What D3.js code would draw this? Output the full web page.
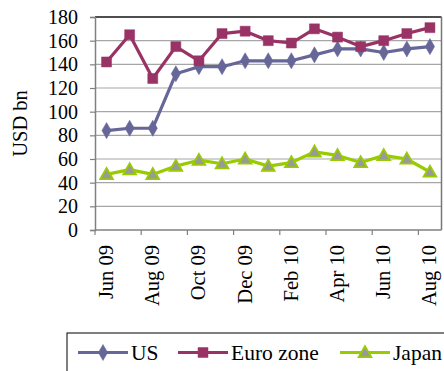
<!DOCTYPE html>
<html>
<head>
<meta charset="utf-8">
<script src="https://cdn.jsdelivr.net/npm/d3@7/dist/d3.min.js"></script>
<style>
  html, body { margin: 0; padding: 0; background: #fff; }
  svg text { font-family: "Liberation Serif", "Times New Roman", serif !important; }
</style>
</head>
<body>
<svg id="chart" width="444" height="371"></svg>
<script>
// Monthly values, USD bn
const months = ["Jun 09","Jul 09","Aug 09","Sep 09","Oct 09","Nov 09","Dec 09",
                "Jan 10","Feb 10","Mar 10","Apr 10","May 10","Jun 10","Jul 10","Aug 10"];
const usValues    = [84, 86, 86, 132, 138, 138, 143, 143, 143, 148, 153, 153, 150, 153, 155];
const euroValues  = [142, 165, 128, 155, 143, 166, 168, 160, 158, 170, 163, 155, 160, 166, 171];
const japanValues = [47, 51, 47, 54, 59, 56, 60, 54, 57, 66, 63, 57, 63, 60, 49];
const yTicks = [0, 20, 40, 60, 80, 100, 120, 140, 160, 180];
const seriesNames = ["US", "Euro zone", "Japan"];

const svg = d3.select("#chart");
const plotLeft = 95, plotRight = 441.5, plotTop = 17, plotBottom = 230;

const x = d3.scaleBand().domain(months).range([plotLeft, plotRight]).padding(0);
const y = d3.scaleLinear().domain([0, 180]).range([plotBottom, plotTop]);

// gridlines
svg.append("g").selectAll("line").data(yTicks.filter(t => t > 0)).join("line")
  .attr("x1", plotLeft).attr("x2", plotRight)
  .attr("y1", d => y(d)).attr("y2", d => y(d))
  .attr("stroke", "#a6a6a6").attr("stroke-width", 1.2);

// plot frame (top and right)
svg.append("line").attr("x1", plotLeft).attr("x2", plotRight).attr("y1", plotTop).attr("y2", plotTop)
  .attr("stroke", "#222").attr("stroke-width", 1.5);
svg.append("line").attr("x1", plotRight).attr("x2", plotRight).attr("y1", plotTop).attr("y2", plotBottom)
  .attr("stroke", "#777").attr("stroke-width", 1.5);

// y axis
const yAxis = d3.axisLeft(y).tickValues(yTicks).tickSize(5).tickPadding(12);
const gy = svg.append("g").attr("transform", `translate(${plotLeft},0)`).call(yAxis);
gy.select(".domain").attr("stroke", "#808080").attr("stroke-width", 1.5);
gy.selectAll(".tick line").attr("stroke", "#808080").attr("stroke-width", 1.2);
gy.selectAll(".tick text").attr("font-size", 20).attr("fill", "#000");

// x axis: tick marks every two months on category boundaries
const boundaries = months.filter((m, i) => i % 2 === 0).map(m => x(m));
const gx = svg.append("g");
gx.append("line").attr("x1", plotLeft).attr("x2", plotRight).attr("y1", plotBottom).attr("y2", plotBottom)
  .attr("stroke", "#808080").attr("stroke-width", 1.5);
gx.selectAll("line.tk").data(boundaries).join("line").attr("class", "tk")
  .attr("x1", d => d).attr("x2", d => d).attr("y1", plotBottom).attr("y2", plotBottom + 5)
  .attr("stroke", "#808080").attr("stroke-width", 1.2);
gx.selectAll("text").data(months.filter((m, i) => i % 2 === 0)).join("text")
  .attr("transform", d => `translate(${x(d) + x.bandwidth() / 2 + 6.5},${plotBottom + 15}) rotate(-90)`)
  .attr("text-anchor", "end")
  .attr("font-size", 20.5)
  .text(d => d);

// y axis title
svg.append("text")
  .attr("transform", `translate(27,${(plotTop + plotBottom) / 2}) rotate(-90)`)
  .attr("text-anchor", "middle").attr("font-size", 20.5)
  .text("USD bn");

const cx = m => x(m) + x.bandwidth() / 2;
const line = d3.line().x(d => cx(d.m)).y(d => y(d.v));

const series = [
  { name: seriesNames[0], values: usValues, color: "#666699", fill: "#666699", shape: d3.symbolDiamond, size: 75 },
  { name: seriesNames[1], values: euroValues, color: "#993366", fill: "#993366", shape: d3.symbolSquare, size: 100 },
  { name: seriesNames[2], values: japanValues, color: "#99cc00", fill: "#999999", shape: d3.symbolTriangle, size: 70 }
];

series.forEach(s => {
  const pts = months.map((m, i) => ({ m, v: s.values[i] }));
  svg.append("path").datum(pts).attr("d", line)
    .attr("fill", "none").attr("stroke", s.color).attr("stroke-width", 3.2)
    .attr("stroke-linejoin", "round");
  svg.append("g").selectAll("path").data(pts).join("path")
    .attr("transform", d => `translate(${cx(d.m)},${y(d.v) + (s.shape === d3.symbolTriangle ? 1 : 0)})`)
    .attr("d", d3.symbol().type(s.shape).size(s.size))
    .attr("fill", s.fill)
    .attr("stroke", s.color).attr("stroke-width", s.shape === d3.symbolTriangle ? 1.8 : 0.5);
});

// legend
const lg = svg.append("g");
lg.append("rect").attr("x", 67).attr("y", 333).attr("width", 400).attr("height", 60)
  .attr("fill", "none").attr("stroke", "#000").attr("stroke-width", 1);
const legendPos = [78, 178, 340];
series.forEach((s, i) => {
  const x0 = legendPos[i], yy = 352.5;
  lg.append("line").attr("x1", x0).attr("x2", x0 + 50).attr("y1", yy).attr("y2", yy)
    .attr("stroke", s.color).attr("stroke-width", 3.2);
  lg.append("path").attr("transform", `translate(${x0 + 25},${yy + (s.shape === d3.symbolTriangle ? 1 : 0)})`)
    .attr("d", d3.symbol().type(s.shape).size(s.size))
    .attr("fill", s.fill).attr("stroke", s.color)
    .attr("stroke-width", s.shape === d3.symbolTriangle ? 1.8 : 0.5);
  lg.append("text").attr("x", x0 + 53).attr("y", yy + 7).attr("font-size", 21.5).text(s.name);
});
</script>
</body>
</html>
